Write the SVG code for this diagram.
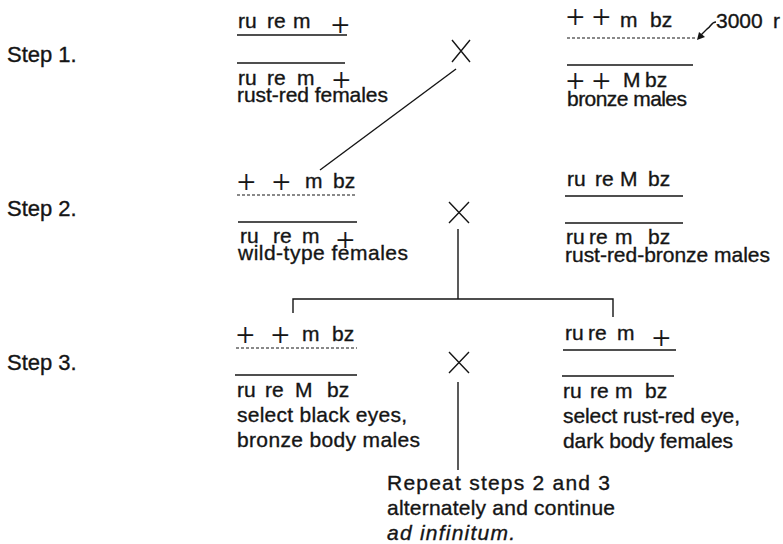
<svg xmlns="http://www.w3.org/2000/svg" width="783" height="544" viewBox="0 0 783 544">
<style>
text{font-family:"Liberation Sans",Arial,sans-serif;font-size:21px;fill:#151515;stroke:#151515;stroke-width:0.35}
.step{font-size:22px}
.pl{font-family:"Liberation Serif","Times New Roman",serif;font-size:33px;stroke-width:0.2}
.it{font-style:italic}
.rule{stroke:#151515;stroke-width:1.4;fill:none}
.dash{stroke:#151515;stroke-width:1.1;stroke-dasharray:3 2;fill:none}
.con{stroke:#151515;stroke-width:1.4;fill:none}
</style>
<rect width="783" height="544" fill="#fff"/>
<g id="steps">
<text class="step" x="7" y="62">Step 1.</text>
<text class="step" x="7" y="216">Step 2.</text>
<text class="step" x="7" y="370">Step 3.</text>
</g>
<g id="female1">
<text y="28"><tspan x="238">ru</tspan><tspan x="267">re</tspan><tspan x="293">m</tspan></text>
<text class="pl" x="331" y="35.5">+</text>
<line class="rule" x1="237" y1="35" x2="347" y2="35"/>
<line class="rule" x1="237" y1="63" x2="345" y2="63"/>
<text y="85"><tspan x="238">ru</tspan><tspan x="267">re</tspan><tspan x="297">m</tspan></text>
<text class="pl" x="332" y="90.5">+</text>
<text x="237" y="102" textLength="151" lengthAdjust="spacing">rust-red females</text>
</g>
<g id="male1">
<text class="pl" x="566" y="28">+</text>
<text class="pl" x="592" y="28">+</text>
<text y="27"><tspan x="620">m</tspan><tspan x="650">bz</tspan></text>
<line class="dash" x1="567" y1="38" x2="695" y2="38"/>
<line class="rule" x1="567" y1="65" x2="693" y2="65"/>
<text class="pl" x="566" y="91.5">+</text>
<text class="pl" x="592" y="91.5">+</text>
<text y="87"><tspan x="623">M</tspan><tspan x="645">bz</tspan></text>
<text x="567" y="106" textLength="120" lengthAdjust="spacing">bronze males</text>
</g>
<g id="irradiation">
<path class="con" d="M716,22 C711,22 711,27 707,29 L701,35"/>
<polygon points="697,40 699,32 705,37" fill="#151515"/>
<text y="28" font-size="20"><tspan x="716">3000</tspan><tspan x="773">r</tspan></text>
</g>
<g id="female2">
<text class="pl" x="237" y="192.5">+</text>
<text class="pl" x="272" y="192.5">+</text>
<text y="188"><tspan x="305">m</tspan><tspan x="333">bz</tspan></text>
<line class="dash" x1="237" y1="195" x2="357" y2="195"/>
<line class="rule" x1="238" y1="222" x2="357" y2="222"/>
<text y="243"><tspan x="240">ru</tspan><tspan x="273">re</tspan><tspan x="302">m</tspan></text>
<text class="pl" x="336" y="250.5">+</text>
<text x="238" y="260" textLength="170" lengthAdjust="spacing">wild-type females</text>
</g>
<g id="male2">
<text y="186"><tspan x="567">ru</tspan><tspan x="595">re</tspan><tspan x="620">M</tspan><tspan x="648">bz</tspan></text>
<line class="rule" x1="565" y1="196" x2="683" y2="196"/>
<line class="rule" x1="565" y1="223" x2="683" y2="223"/>
<text y="244"><tspan x="566">ru</tspan><tspan x="589">re</tspan><tspan x="615">m</tspan><tspan x="648">bz</tspan></text>
<text x="565" y="262" textLength="205" lengthAdjust="spacing">rust-red-bronze males</text>
</g>
<g id="female3">
<text class="pl" x="236" y="345.5">+</text>
<text class="pl" x="271" y="345.5">+</text>
<text y="341"><tspan x="302">m</tspan><tspan x="332">bz</tspan></text>
<line class="dash" x1="236" y1="348" x2="357" y2="348"/>
<line class="rule" x1="235" y1="375" x2="357" y2="375"/>
<text y="397"><tspan x="237">ru</tspan><tspan x="265">re</tspan><tspan x="295">M</tspan><tspan x="327">bz</tspan></text>
<text x="237" y="422" textLength="170" lengthAdjust="spacing">select black eyes,</text>
<text x="237" y="447" textLength="183" lengthAdjust="spacing">bronze body males</text>
</g>
<g id="male3">
<text y="340"><tspan x="565">ru</tspan><tspan x="588">re</tspan><tspan x="617">m</tspan></text>
<text class="pl" x="652" y="349">+</text>
<line class="rule" x1="563" y1="350" x2="676" y2="350"/>
<line class="rule" x1="562" y1="376" x2="674" y2="376"/>
<text y="398"><tspan x="563">ru</tspan><tspan x="590">re</tspan><tspan x="615">m</tspan><tspan x="645">bz</tspan></text>
<text x="563" y="423" textLength="177" lengthAdjust="spacing">select rust-red eye,</text>
<text x="563" y="448" textLength="170" lengthAdjust="spacing">dark body females</text>
</g>
<g id="note">
<text x="387" y="490" textLength="223" lengthAdjust="spacing">Repeat steps 2 and 3</text>
<text x="387" y="515" textLength="228" lengthAdjust="spacing">alternately and continue</text>
<text class="it" x="387" y="540" textLength="128" lengthAdjust="spacing">ad infinitum.</text>
</g>
<g id="crosses" class="con">
<path class="con" d="M452,40 L470,62 M470,40 L452,62"/>
<path class="con" d="M449,202 L469,223 M469,202 L449,223"/>
<path class="con" d="M449,352 L469,373 M469,352 L449,373"/>
</g>
<g id="connectors">
<line class="con" x1="456" y1="69" x2="320" y2="170"/>
<line class="con" x1="458" y1="229" x2="458" y2="299"/>
<path class="con" d="M293,313 L293,299 L613,299 L613,317"/>
<line class="con" x1="458" y1="382" x2="458" y2="470"/>
</g>
</svg>
